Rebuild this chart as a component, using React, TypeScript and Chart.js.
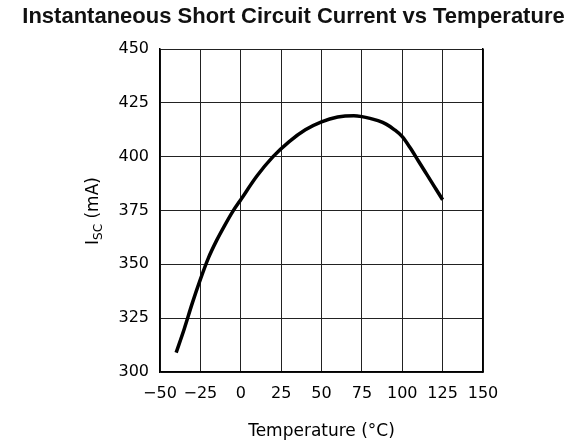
import React, { useEffect, useRef } from "react";
import { Chart, registerables } from "chart.js";

Chart.register(...registerables);

const chartTitle = "Instantaneous Short Circuit Current vs Temperature";
const xTitle = "Temperature (°C)";
const yTitleMain = "I";
const yTitleSub = "SC";
const yTitleUnit = " (mA)";

const temperatures = [-40, -35, -30, -25, -20, -15, -10, -5, 0, 10, 20, 30, 40, 50, 60, 70, 75, 80, 85, 90, 95, 100, 105, 110, 115, 120, 125];
const currents = [309, 320, 332, 343, 353, 361, 368, 374.5, 380, 391, 400, 407, 412.5, 416.2, 418.4, 419, 418.6, 417.8, 416.7, 415.1, 412.6, 409.3, 404, 398, 392, 386, 380];

const xMin = -50, xMax = 150, xStep = 25;
const yMin = 300, yMax = 450, yStep = 25;

const W = 587, H = 445;

const yTitlePlugin = {
  id: "yTitleSub",
  afterDraw(chart: any) {
    const ctx = chart.ctx;
    ctx.save();
    ctx.fillStyle = "#000";
    ctx.textBaseline = "middle";
    ctx.textAlign = "left";
    const cx = 94;
    const cy = 211;
    ctx.translate(cx, cy);
    ctx.rotate(-Math.PI / 2);
    const fMain = '17px "DejaVu Sans"';
    const fSub = '12px "DejaVu Sans"';
    ctx.font = fMain;
    const wI = ctx.measureText(yTitleMain).width;
    const wU = ctx.measureText(yTitleUnit).width;
    ctx.font = fSub;
    const wS = ctx.measureText(yTitleSub).width;
    let x = -(wI + wS + wU) / 2;
    ctx.font = fMain;
    ctx.fillText(yTitleMain, x, 0);
    x += wI;
    ctx.font = fSub;
    ctx.fillText(yTitleSub, x, 5);
    x += wS;
    ctx.font = fMain;
    ctx.fillText(yTitleUnit, x, 0);
    ctx.restore();
  },
};

export default function App() {
  const ref = useRef<HTMLCanvasElement | null>(null);
  useEffect(() => {
    if (!ref.current) return;
    const tickFont = { family: "DejaVu Sans", size: 16 };
    const chart = new Chart(ref.current, {
      type: "line",
      data: {
        labels: temperatures,
        datasets: [
          {
            label: "ISC",
            data: temperatures.map((t, i) => ({ x: t, y: currents[i] })),
            borderColor: "#000",
            borderWidth: 3.5,
            pointRadius: 0,
            fill: false,
            cubicInterpolationMode: "monotone",
          },
        ],
      },
      options: {
        responsive: false,
        animation: false,
        devicePixelRatio: 1,
        layout: { padding: 0 },
        plugins: {
          legend: { display: false },
          tooltip: { enabled: false },
          title: {
            display: true,
            text: chartTitle,
            color: "#111",
            font: { family: "Liberation Sans", size: 22, weight: "bold", lineHeight: 1.2 },
            padding: { top: 4, bottom: 18.6 },
          },
        },
        scales: {
          x: {
            type: "linear",
            min: xMin,
            max: xMax,
            ticks: {
              stepSize: xStep,
              color: "#000",
              font: tickFont,
              padding: 12,
              maxRotation: 0,
              callback: (v: any) => (Number(v) < 0 ? "\u2212" + Math.abs(Number(v)) : String(v)),
            },
            grid: { color: "#222", lineWidth: 1, drawTicks: false },
            border: { color: "#000", width: 1.5 },
            title: {
              display: true,
              text: xTitle,
              color: "#000",
              font: { family: "DejaVu Sans", size: 17, lineHeight: 1.2 },
              padding: { top: 0, bottom: 3 },
            },
            afterFit: (s: any) => {
              s.height = H - 372;
            },
          },
          y: {
            type: "linear",
            min: yMin,
            max: yMax,
            ticks: { stepSize: yStep, color: "#000", font: tickFont, padding: 11 },
            grid: { color: "#222", lineWidth: 1, drawTicks: false },
            border: { color: "#000", width: 1.5 },
            afterFit: (s: any) => {
              s.width = 160;
            },
          },
          yRight: {
            type: "linear",
            position: "right",
            min: yMin,
            max: yMax,
            display: true,
            ticks: { display: false },
            grid: { display: false, drawTicks: false },
            border: { display: true, color: "#000", width: 1.5 },
            afterFit: (s: any) => {
              s.width = W - 483;
            },
          },
        },
      },
      plugins: [yTitlePlugin],
    } as any);
    return () => chart.destroy();
  }, []);
  return (
    <div style={{ position: "fixed", left: 0, top: 0, width: W, height: H, background: "#fff" }}>
      <canvas ref={ref} width={W} height={H} style={{ display: "block" }} />
    </div>
  );
}
